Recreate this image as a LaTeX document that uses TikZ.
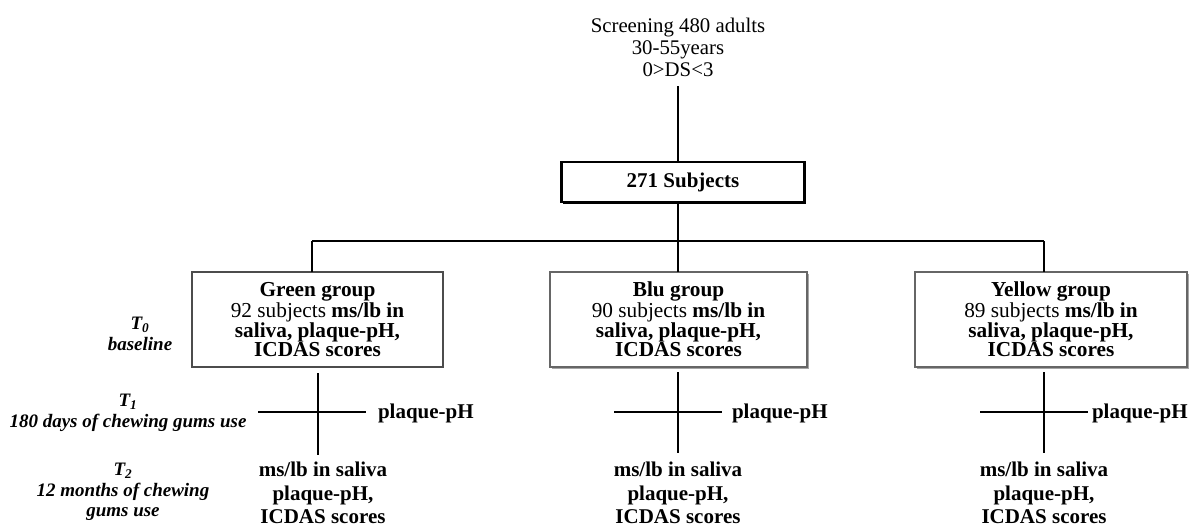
\documentclass[tikz,border=0pt]{standalone}
\usepackage{fontspec}
\setmainfont{Liberation Serif}
\usetikzlibrary{shadows}
\begin{document}
\begin{tikzpicture}[x=1pt,y=-1pt,
  base/.style={inner sep=0pt, outer sep=0pt, align=center},
  toptxt/.style={base, font=\fontsize{20.8}{22}\selectfont},
  subbox/.style={base, draw=black, line width=2.2pt, fill=white, minimum width=243pt, minimum height=40pt,
     font=\fontsize{21}{22}\selectfont\bfseries,
     drop shadow={shadow xshift=1.6pt, shadow yshift=-1.6pt, fill=black, opacity=1}},
  grpbox/.style={base, draw=black!70, line width=1.6pt, fill=white, minimum height=95pt,
     font=\fontsize{21.3}{19}\selectfont},
  shbox/.style={grpbox, draw=black!60,
     drop shadow={shadow xshift=2pt, shadow yshift=-2pt, fill=black, opacity=0.35}},
  endtxt/.style={base, font=\fontsize{21}{23.5}\selectfont\bfseries},
  phtxt/.style={base, anchor=west, font=\fontsize{21}{22}\selectfont\bfseries},
  ttxt/.style={base, font=\fontsize{19}{20.5}\selectfont\bfseries\itshape},
  ln/.style={line width=1.1pt}
]
\useasboundingbox (0,0) rectangle (1190,527);

\node[toptxt] (screen) at (678,47) {Screening 480 adults\\30-55years\\0>DS<3};
\node[subbox] (sub) at (683,182) {271 Subjects};

\coordinate (bl) at (312,241);
\coordinate (bm) at (678,241);
\coordinate (br) at (1044,241);

\node[grpbox, minimum width=251pt] (green) at (317.5,319.5)
  {\textbf{Green group}\\92 subjects \textbf{ms/lb in}\\\textbf{saliva, plaque-pH,}\\\textbf{ICDAS scores}};
\node[shbox, minimum width=257pt] (blu) at (678.5,319.5)
  {\textbf{Blu group}\\90 subjects \textbf{ms/lb in}\\\textbf{saliva, plaque-pH,}\\\textbf{ICDAS scores}};
\node[shbox, minimum width=272pt] (yellow) at (1051,319.5)
  {\textbf{Yellow group}\\89 subjects \textbf{ms/lb in}\\\textbf{saliva, plaque-pH,}\\\textbf{ICDAS scores}};

% top connectors
\draw[ln] (screen.south) ++(0,10) -- (screen.south |- sub.north);
\draw[ln] (bm |- sub.south) -- (bm);
\draw[ln] (bl) -- (br);
\draw[ln] (bl) -- (bl |- green.north);
\draw[ln] (br) -- (br |- yellow.north);
\draw[ln] (bm) -- (bm |- blu.north);

% time labels
\node[ttxt] (t0) at (140,334) {T\textsubscript{0}\\baseline};
\node[ttxt] (t1) at (128,413) {T\textsubscript{1}\\180 days of chewing gums use};
\node[ttxt] (t2) at (123,492) {T\textsubscript{2}\\12 months of chewing\\gums use};

% outcome texts
\node[endtxt] (ge) at (323,493) {ms/lb in saliva\\plaque-pH,\\ICDAS scores};
\node[endtxt] (be) at (678,493) {ms/lb in saliva\\plaque-pH,\\ICDAS scores};
\node[endtxt] (ye) at (1044,493) {ms/lb in saliva\\plaque-pH,\\ICDAS scores};

\node[phtxt] (gp) at (378,413) {plaque-pH};
\node[phtxt] (bp) at (732,413) {plaque-pH};
\node[phtxt] (yp) at (1092,413) {plaque-pH};

% green branch
\coordinate (gv1) at (318,373); \coordinate (gv2) at (318,455);
\coordinate (gh1) at (258,412); \coordinate (gh2) at (366,412);
\draw[ln] (gv1) -- (gv2);
\draw[ln] (gh1) -- (gh2);
% blu branch
\coordinate (bv1) at (678,372); \coordinate (bv2) at (678,453);
\coordinate (bh1) at (614,412); \coordinate (bh2) at (722,412);
\draw[ln] (bv1) -- (bv2);
\draw[ln] (bh1) -- (bh2);
% yellow branch
\coordinate (yv1) at (1044,372); \coordinate (yv2) at (1044,453);
\coordinate (yh1) at (980,412); \coordinate (yh2) at (1088,412);
\draw[ln] (yv1) -- (yv2);
\draw[ln] (yh1) -- (yh2);
\end{tikzpicture}
\end{document}
